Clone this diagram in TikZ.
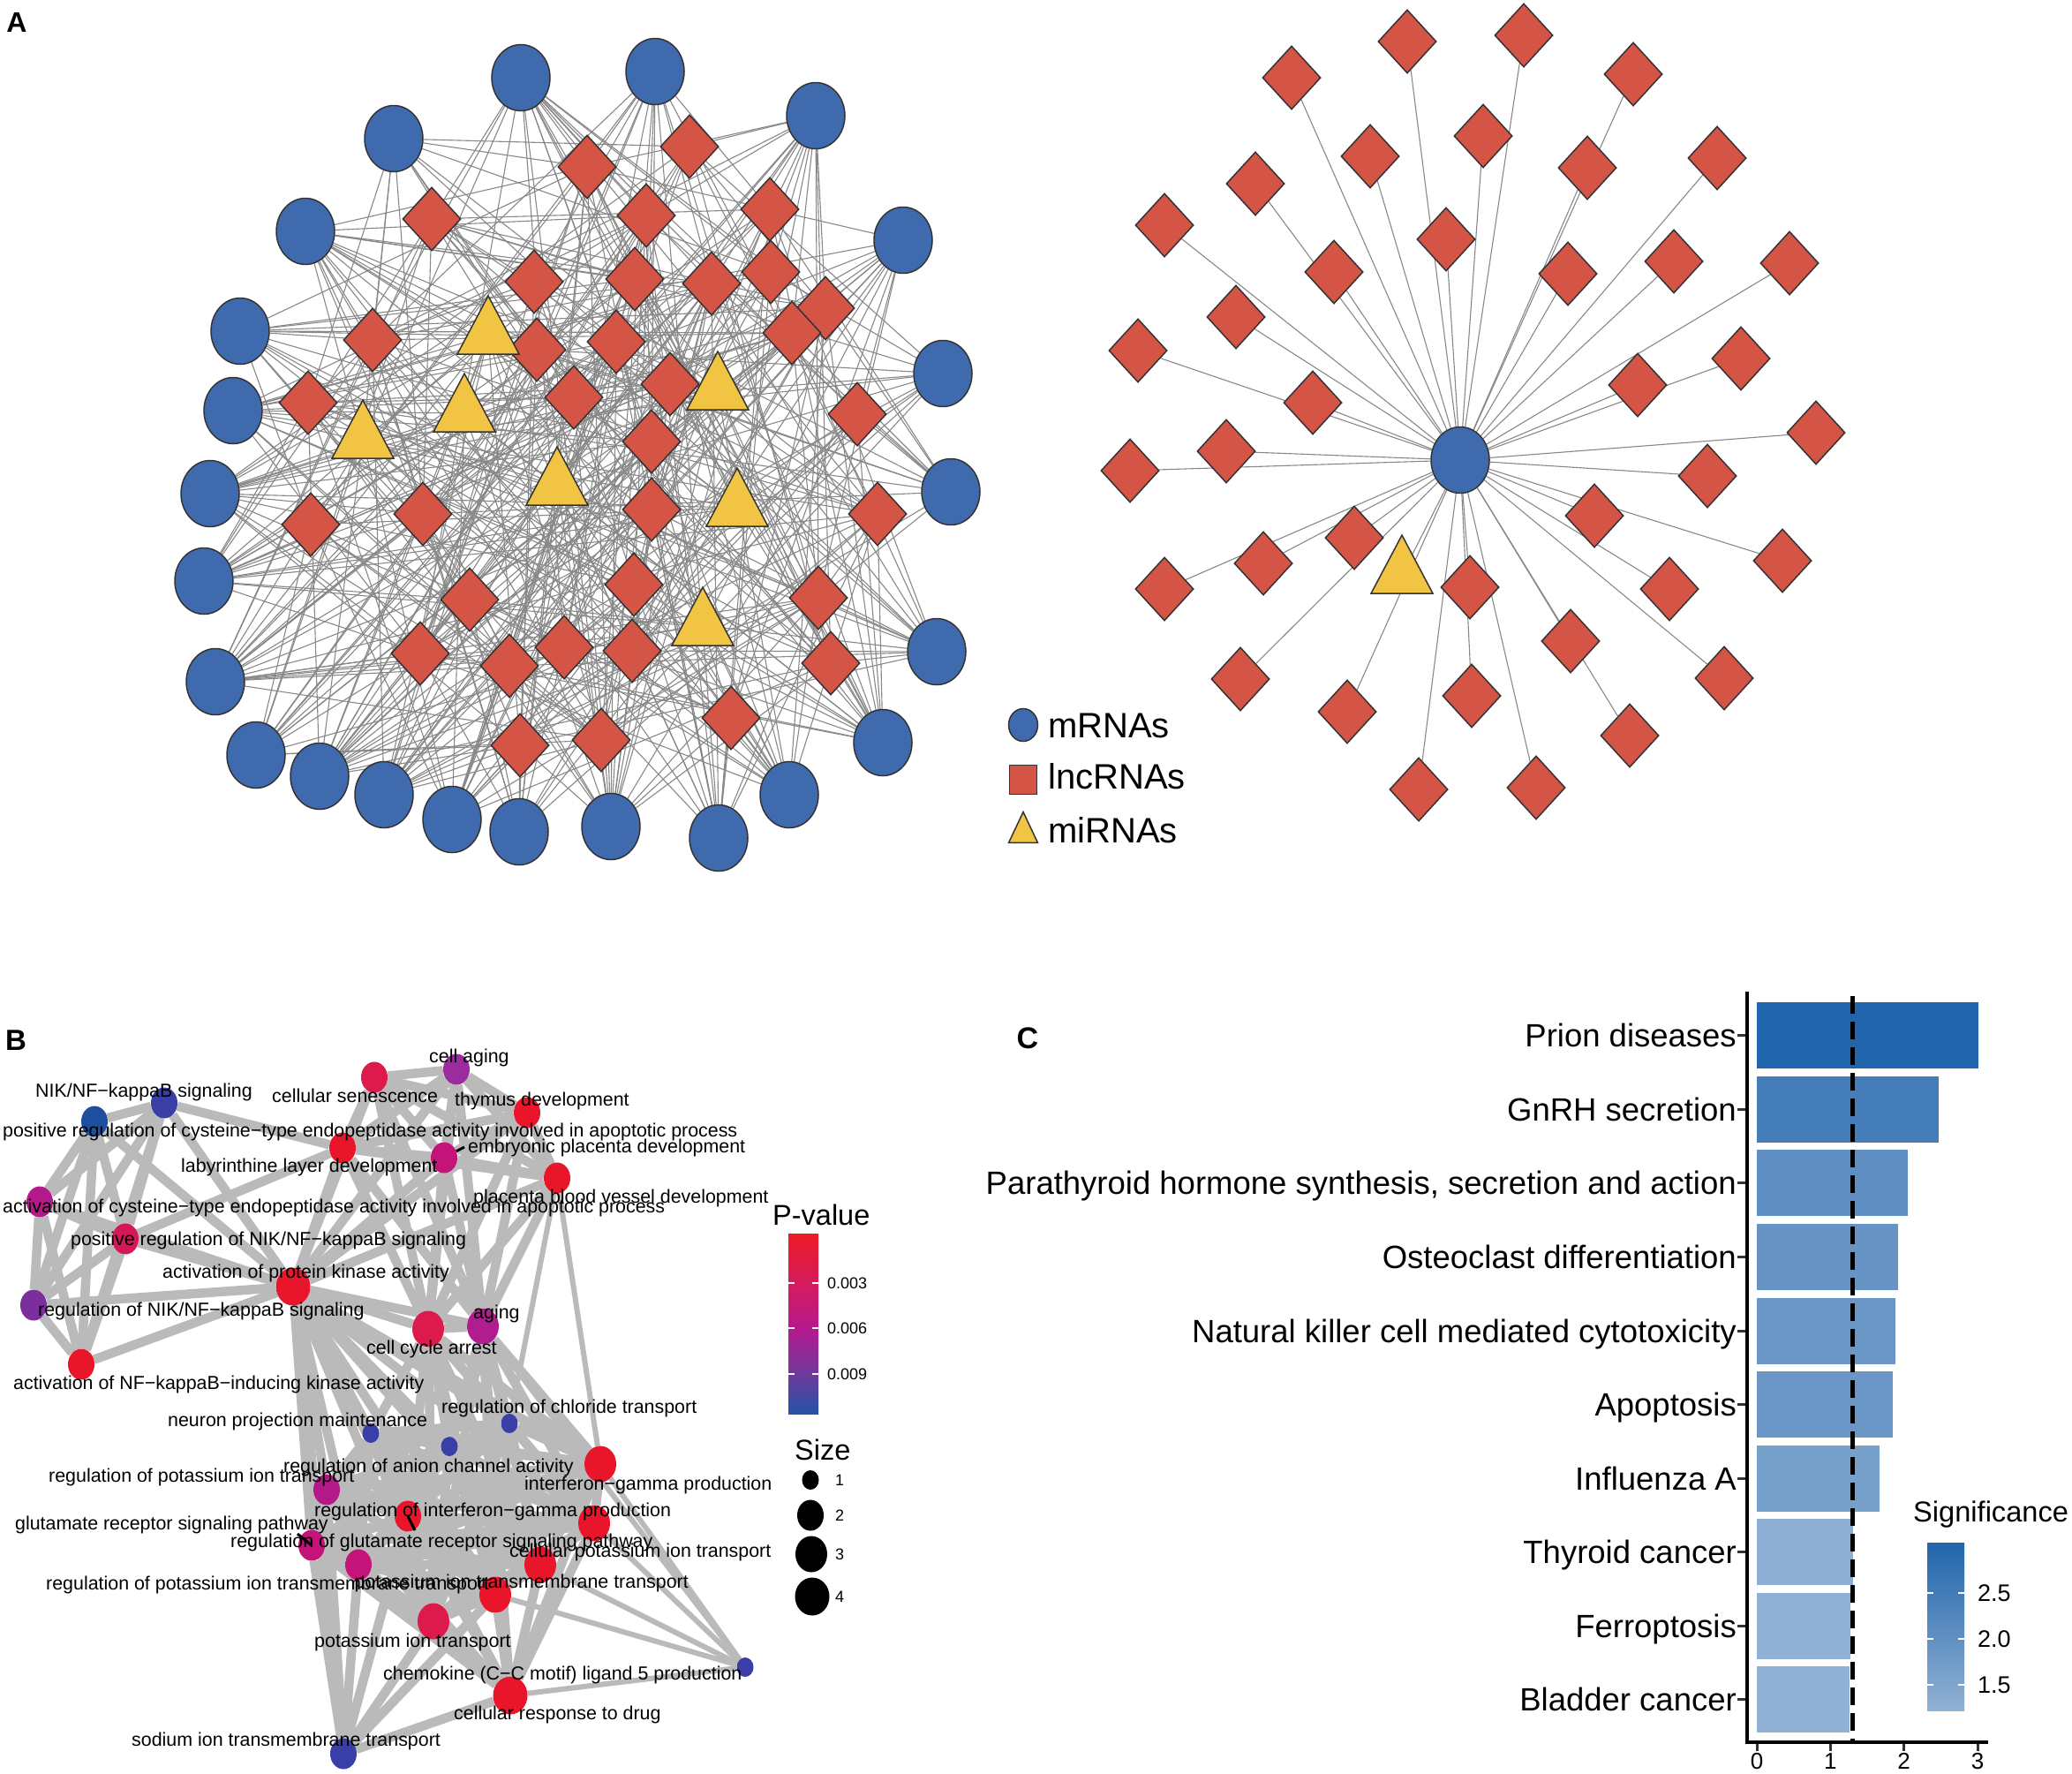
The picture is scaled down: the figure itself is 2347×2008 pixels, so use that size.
\documentclass[tikz,border=0pt]{standalone}
\usepackage{fontspec}
\setmainfont{Liberation Sans}
\usetikzlibrary{shapes.geometric,backgrounds}
\definecolor{mblue}{HTML}{3F6BAE}
\definecolor{lred}{HTML}{D45446}
\definecolor{myel}{HTML}{F2C443}
\definecolor{outl}{HTML}{333333}
\definecolor{aedgec}{HTML}{888888}
\definecolor{bedgec}{HTML}{BABABA}
\definecolor{cRed}{HTML}{E8152B}
\definecolor{cRed2}{HTML}{DC1A4C}
\definecolor{cMag}{HTML}{C4147A}
\definecolor{cMag2}{HTML}{B4198A}
\definecolor{cPur}{HTML}{9C2B9E}
\definecolor{cVio}{HTML}{7B2E9C}
\definecolor{cBlu}{HTML}{3A3FA8}
\definecolor{cDBl}{HTML}{1E4E9E}
\definecolor{cbA}{HTML}{EC1C24}
\definecolor{cbB}{HTML}{D51B5C}
\definecolor{cbC}{HTML}{B5198E}
\definecolor{cbD}{HTML}{6E3A9C}
\definecolor{cbE}{HTML}{2254A5}
\definecolor{sigHi}{HTML}{2166AC}
\definecolor{sigLo}{HTML}{91B1D4}
\definecolor{tickc}{HTML}{333333}
\tikzset{
  fsz/.style={font=\fontsize{#1}{#1}\selectfont},
  mrna/.style={ellipse, draw=outl, line width=1.5pt, fill=mblue, minimum width=66pt, minimum height=75pt, inner sep=0pt},
  lnc/.style={diamond, draw=outl, line width=1.5pt, fill=lred, minimum width=66pt, minimum height=72pt, inner sep=0pt},
  mir/.style={isosceles triangle, isosceles triangle stretches, shape border rotate=90, draw=outl, line width=1.5pt, fill=myel, minimum width=70pt, minimum height=66pt, inner sep=0pt},
  aedge/.style={draw=aedgec, line width=1.1pt},
  bedge/.style={draw=bedgec, line width=10.5pt},
  bnode/.style={ellipse, inner sep=0pt, fill=#1},
  sA/.style={minimum width=19pt, minimum height=22pt},
  sB/.style={minimum width=30pt, minimum height=35pt},
  sC/.style={minimum width=36pt, minimum height=41pt},
  sD/.style={minimum width=39pt, minimum height=43pt},
  blab/.style={anchor=base west, inner sep=0pt, font=\fontsize{21.4}{21.4}\selectfont},
  blabr/.style={anchor=base east, inner sep=0pt, font=\fontsize{21.4}{21.4}\selectfont},
  panel/.style={inner sep=0pt, font=\fontsize{#1}{#1}\selectfont\bfseries},
  clab/.style={anchor=base east, inner sep=0pt, font=\fontsize{36.5}{36.5}\selectfont},
}
\begin{document}
\begin{tikzpicture}[x=1pt,y=-1pt]
\useasboundingbox (0,0) rectangle (2347,2008);
\begin{pgfonlayer}{background}
\fill[white] (0,0) rectangle (2347,2008);
\end{pgfonlayer}

% ---------------- Panel A left network ----------------
\foreach \k/\x/\y in {1/590/88,2/742/81,3/446/157,4/924/131,5/346/262,6/1023/272,7/272/375,8/1068/423,9/264/465,10/238/559,11/1077/557,12/231/658,13/244/772,14/1061/738,15/290/855,16/362/879,17/435/900,18/512/928,19/588/942,20/692/936,21/814/949,22/894/900,23/1000/841}
  \node[mrna] (c\k) at (\x,\y) {};
\foreach \k/\x/\y in {1/665/189,2/781/166,3/489/248,4/732/244,5/872/237,6/605/319,7/719/316,8/806/321,9/873/308,10/935/349,11/422/385,12/608/396,13/698/387,14/897/377,15/759/435,16/349/456,17/650/450,18/971/469,19/738/500,20/352/594,21/479/582,22/738/577,23/994/582,24/718/662,25/532/679,26/927/677,27/476/740,28/577/754,29/639/733,30/716/737,31/941/751,32/828/813,33/589/844,34/681/838}
  \node[lnc] (n\k) at (\x,\y) {};
\foreach \k/\x/\y in {35/553/380,36/526/468,37/411/498,38/813/443,39/631/551,40/835/575,41/796/710}
  \node[mir] (n\k) at (\x,\y) {};

\begin{pgfonlayer}{background}
\pgfmathsetseed{4242}
\foreach \i in {1,...,23}{
  \foreach \j in {1,...,41}{
    \pgfmathtruncatemacro\flag{rnd<0.37}
    \ifnum\flag=1 \draw[aedge] (c\i) -- (n\j);\fi
  }
}
\foreach \i in {1,...,40}{
  \pgfmathtruncatemacro\jstart{\i+1}
  \foreach \j in {\jstart,...,41}{
    \pgfmathtruncatemacro\flag{rnd<0.11}
    \ifnum\flag=1 \draw[aedge] (n\i) -- (n\j);\fi
  }
}
\end{pgfonlayer}

% ---------------- Panel A right network ----------------
\node[mrna] (rc) at (1654,521) {};
\foreach \k/\x/\y in {1/1594/47,2/1726/40,3/1463/88,4/1850/84,5/1552/177,6/1680/154,7/1798/190,8/1945/179,9/1422/208,10/1319/255,11/1638/271,12/1511/308,13/1776/310,14/1896/296,15/2027/298,16/1400/359,17/1289/397,18/1972/406,19/1487/456,20/1855/436,21/2057/490,22/1389/511,23/1280/533,24/1934/539,25/1806/584,26/1534/609,27/1431/638,28/1319/667,29/2019/635,30/1665/665,31/1891/667,32/1779/726,33/1405/769,34/1953/768,35/1526/806,36/1667/788,37/1846/833,38/1607/894,39/1740/892}
  \node[lnc] (r\k) at (\x,\y) {};
\node[mir] (rt) at (1588,651) {};
\begin{pgfonlayer}{background}
\foreach \k in {1,...,39} \draw[aedge] (rc) -- (r\k);
\draw[aedge] (rc) -- (rt);
\end{pgfonlayer}

% legend A
\node[mrna, minimum width=33pt, minimum height=37pt] (lgm) at (1159,821) {};
\node[rectangle, draw=outl, fill=lred, line width=1.5pt, minimum width=31pt, minimum height=33pt, inner sep=0pt] (lgl) at (1159,883) {};
\node[mir, minimum width=33pt, minimum height=35pt] (lgt) at (1159,944) {};
\node[anchor=base west, inner sep=0pt, fsz=40] (lgmt) at (1187,835) {mRNAs};
\node[anchor=base west, inner sep=0pt, fsz=40] (lglt) at (1187,893) {lncRNAs};
\node[anchor=base west, inner sep=0pt, fsz=40] (lgtt) at (1187,954) {miRNAs};

\node[panel=32] (pA) at (19,25) {A};

% ---------------- Panel B ----------------
\node[panel=33] (pB) at (18,1178) {B};

\node[bnode=cBlu, sB] (nik) at (186,1249) {};
\node[bnode=cDBl, sB] (prc) at (107,1270) {};
\node[bnode=cRed2, sB] (cs) at (424,1220) {};
\node[bnode=cPur, sB] (ca) at (517,1211) {};
\node[bnode=cRed, sB] (td) at (597,1260) {};
\node[bnode=cRed, sB] (lab) at (388,1300) {};
\node[bnode=cMag, sB] (emb) at (503,1311) {};
\node[bnode=cRed, sB] (pbv) at (631,1334) {};
\node[bnode=cMag2, sB] (ac) at (45,1361) {};
\node[bnode=cRed2!70!cMag, sB] (prn) at (142,1403) {};
\node[bnode=cRed, sD] (pk) at (332,1457) {};
\node[bnode=cVio, sB] (rn) at (38,1478) {};
\node[bnode=cRed2, sC] (cca) at (485,1505) {};
\node[bnode=cMag2!80!cPur, sC] (ag) at (547,1502) {};
\node[bnode=cRed, sB] (anf) at (92,1545) {};
\node[bnode=cBlu, sA] (npm) at (420,1623) {};
\node[bnode=cBlu, sA] (rac) at (509,1638) {};
\node[bnode=cBlu, sA] (rct) at (577,1612) {};
\node[bnode=cMag2, sB] (rpt) at (370,1687) {};
\node[bnode=cRed, sC] (ifn) at (680,1658) {};
\node[bnode=cRed, sB] (rifn) at (462,1717) {};
\node[bnode=cRed, sC] (xa) at (673,1725) {};
\node[bnode=cMag, sB] (glu) at (353,1750) {};
\node[bnode=cMag, sB] (rglu) at (406,1772) {};
\node[bnode=cRed, sC] (cpit) at (612,1772) {};
\node[bnode=cRed, sC] (pitm) at (561,1806) {};
\node[bnode=cRed2, sC] (pit) at (491,1836) {};
\node[bnode=cRed, sD] (crd) at (578,1920) {};
\node[bnode=cBlu, sB] (sod) at (389,1986) {};
\node[bnode=cBlu, sA] (chem) at (844,1888) {};

\begin{pgfonlayer}{background}
\foreach \a [count=\i] in {nik,prc,ac,prn,rn,anf,pk}{
  \foreach \b [count=\j] in {nik,prc,ac,prn,rn,anf,pk}{
    \ifnum\j>\i \draw[bedge] (\a) -- (\b);\fi
  }
}
\foreach \a [count=\i] in {cs,ca,td,lab,emb,pbv,cca,ag,pk}{
  \foreach \b [count=\j] in {cs,ca,td,lab,emb,pbv,cca,ag,pk}{
    \ifnum\j>\i \draw[bedge] (\a) -- (\b);\fi
  }
}
\foreach \a [count=\i] in {npm,rac,rct,rpt,ifn,rifn,xa,glu,rglu,cpit,pitm,pit}{
  \foreach \b [count=\j] in {npm,rac,rct,rpt,ifn,rifn,xa,glu,rglu,cpit,pitm,pit}{
    \ifnum\j>\i \draw[bedge] (\a) -- (\b);\fi
  }
}
\foreach \a/\b in {crd/pit,crd/pitm,crd/cpit,crd/xa,crd/rglu,crd/glu,crd/rpt,crd/rifn,crd/ifn,sod/pk,sod/rpt,sod/glu,sod/rglu,sod/pit,sod/crd,sod/pitm,sod/rifn,pk/npm,pk/rac,pk/rct,pk/rpt,pk/ifn,pk/rifn,pk/xa,pk/glu,pk/rglu,pk/cpit,pk/pitm,pk/pit,pk/crd,cca/npm,cca/rac,cca/rct,cca/ifn,cca/xa,cca/cpit,cca/pitm,cca/rifn,cca/pit,ag/rac,ag/rct,ag/ifn,ag/xa,ag/cpit,ag/pitm,ag/pit,ag/crd,nik/lab,prn/lab}
  \draw[bedge] (\a) -- (\b);
\foreach \a/\b in {chem/ifn,chem/crd,chem/cpit,chem/xa,chem/ag,chem/pitm,pbv/ifn,pbv/rct}
  \draw[bedge, line width=6pt] (\a) -- (\b);
\end{pgfonlayer}

% leader lines
\coordinate (embL) at (526,1299);
\draw[line width=3pt] (emb) -- (embL);
\coordinate (rifnL) at (470,1733);
\draw[line width=3pt] (rifn.center) -- (rifnL);
\coordinate (gluL) at (337,1737);
\draw[line width=3pt] (glu.center) -- (gluL);

% labels B
\node[blab] at (486,1203) {cell aging};
\node[blab] at (40,1242) {NIK/NF−kappaB signaling};
\node[blab] at (308,1248) {cellular senescence};
\node[blab] at (515,1252) {thymus development};
\node[blab] at (3,1287) {positive regulation of cysteine−type endopeptidase activity involved in apoptotic process};
\node[blab] at (530,1305) {embryonic placenta development};
\node[blab] at (205,1327) {labyrinthine layer development};
\node[blab] at (536,1362) {placenta blood vessel development};
\node[blab] at (3,1373) {activation of cysteine−type endopeptidase activity involved in apoptotic process};
\node[blab] at (80,1410) {positive regulation of NIK/NF−kappaB signaling};
\node[blab] at (184,1447) {activation of protein kinase activity};
\node[blab] at (43,1490) {regulation of NIK/NF−kappaB signaling};
\node[blab] at (536,1493) {aging};
\node[blab] at (415,1533) {cell cycle arrest};
\node[blab] at (15,1573) {activation of NF−kappaB−inducing kinase activity};
\node[blab] at (190,1615) {neuron projection maintenance};
\node[blab] at (500,1600) {regulation of chloride transport};
\node[blab] at (321,1667) {regulation of anion channel activity};
\node[blab] at (55,1678) {regulation of potassium ion transport};
\node[blab] at (594,1687) {interferon−gamma production};
\node[blab] at (356,1717) {regulation of interferon−gamma production};
\node[blab] at (17,1732) {glutamate receptor signaling pathway};
\node[blab] at (261,1752) {regulation of glutamate receptor signaling pathway};
\node[blab] at (577,1763) {cellular potassium ion transport};
\node[blab] at (52,1800) {regulation of potassium ion transmembrane transport};
\node[blabr] at (780,1798) {potassium ion transmembrane transport};
\node[blab] at (356,1865) {potassium ion transport};
\node[blab] at (434,1902) {chemokine (C−C motif) ligand 5 production};
\node[blab] at (514,1947) {cellular response to drug};
\node[blab] at (149,1977) {sodium ion transmembrane transport};

% P-value legend
\node[anchor=base west, inner sep=0pt, fsz=32.5] (pvt) at (875,1387) {P-value};
\shade[top color=cbA, bottom color=cbB] (893,1397) rectangle (927,1453.5);
\shade[top color=cbB, bottom color=cbC] (893,1453) rectangle (927,1504.5);
\shade[top color=cbC, bottom color=cbD] (893,1504) rectangle (927,1556.5);
\shade[top color=cbD, bottom color=cbE] (893,1556) rectangle (927,1601);
\foreach \y/\t in {1453/0.003,1504/0.006,1556/0.009}{
  \draw[white, line width=1.5pt] (893,\y) -- (900,\y);
  \draw[white, line width=1.5pt] (920,\y) -- (927,\y);
  \node[anchor=base west, inner sep=0pt, fsz=18] at (937,\y+6.5) {\t};
}
\node[anchor=base west, inner sep=0pt, fsz=32.5] (szt) at (900,1653) {Size};
\node[ellipse, fill=black, inner sep=0pt, sA] (sz1) at (918,1676) {};
\node[ellipse, fill=black, inner sep=0pt, sB] (sz2) at (918,1716) {};
\node[ellipse, fill=black, inner sep=0pt, sC] (sz3) at (919,1760) {};
\node[ellipse, fill=black, inner sep=0pt, sD] (sz4) at (920,1808) {};
\foreach \y/\t in {1676/1,1716/2,1760/3,1808/4}
  \node[anchor=base west, inner sep=0pt, fsz=18] at (946,\y+6.5) {\t};

% ---------------- Panel C ----------------
\node[panel=34] (pC) at (1164,1176) {C};
\foreach \y/\v/\p/\lab in {1172.5/3.01/100/{Prion diseases},1256/2.47/69/{GnRH secretion},1339.5/2.05/45/{Parathyroid hormone synthesis, secretion and action},1423/1.92/38/{Osteoclast differentiation},1507/1.88/35/{Natural killer cell mediated cytotoxicity},1590.5/1.85/34/{Apoptosis},1674/1.67/23/{Influenza A},1757.5/1.31/3/{Thyroid cancer},1841/1.27/1/{Ferroptosis},1924.5/1.26/0/{Bladder cancer}}{
  \fill[sigHi!\p!sigLo] (1990,{\y-37.5}) rectangle ({1990+83.33*\v},{\y+37.5});
  \draw[tickc, line width=3pt] (1968,\y) -- (1978,\y);
  \node[clab] at (1967,{\y+13}) {\lab};
}
\draw[line width=4.5pt, dash pattern=on 20pt off 9pt] (2098.4,1128) -- (2098.4,1972);
\draw[line width=3.5pt] (1979,1123) |- (2252,1973);
\foreach \v in {0,1,2,3}{
  \draw[tickc, line width=3pt] ({1990+83.33*\v},1975) -- ({1990+83.33*\v},1983);
  \node[anchor=base, inner sep=0pt, fsz=26] at ({1990+83.33*\v},2003) {\v};
}
\node[anchor=base west, inner sep=0pt, fsz=32.6] (sigt) at (2167,1723) {Significance};
\shade[top color=sigHi, bottom color=sigLo] (2183,1747) rectangle (2225,1937);
\foreach \y/\t in {1804/2.5,1856/2.0,1908/1.5}{
  \draw[white, line width=1.5pt] (2183,\y) -- (2190,\y);
  \draw[white, line width=1.5pt] (2218,\y) -- (2225,\y);
  \node[anchor=base west, inner sep=0pt, fsz=27] at (2240,\y+9.5) {\t};
}
\end{tikzpicture}
\end{document}
